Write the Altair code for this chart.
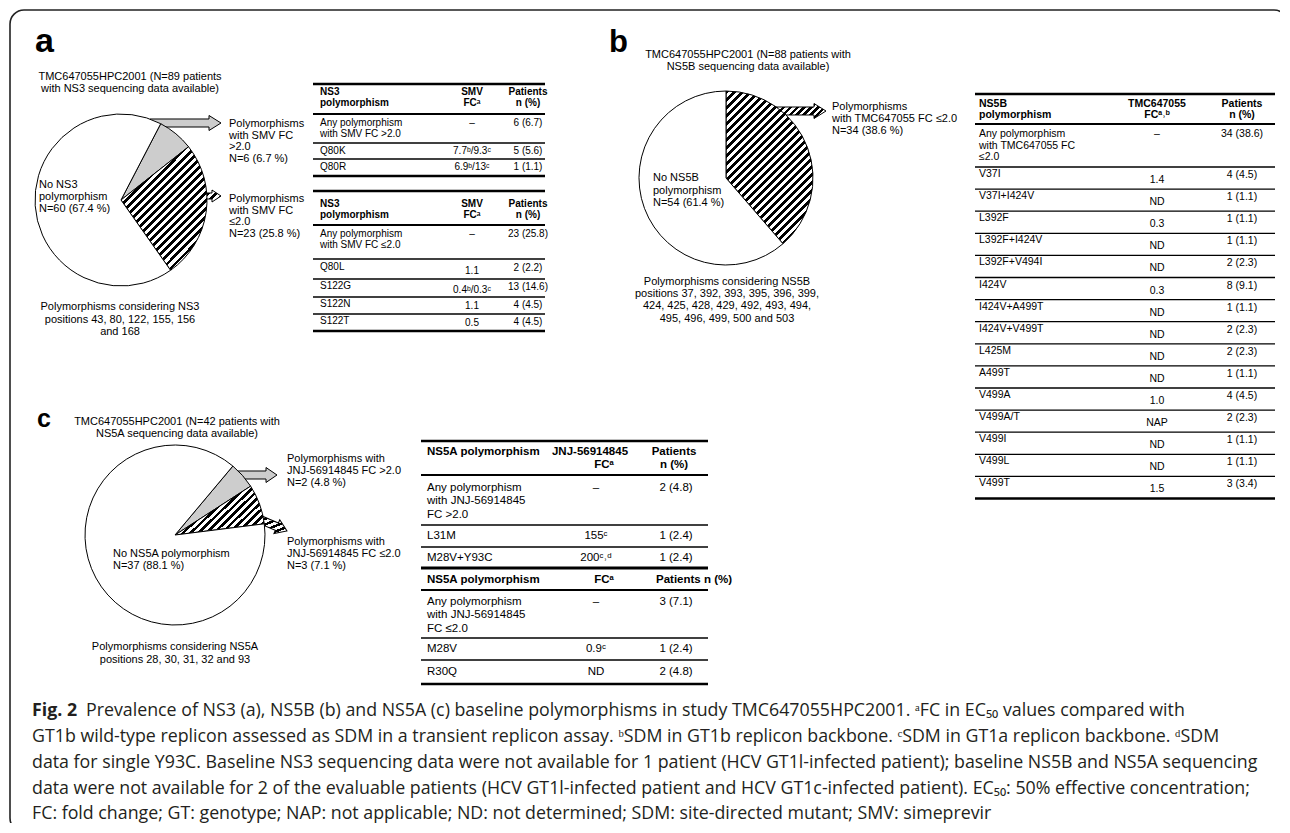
import math
import altair as alt
import pandas as pd

# ---------------- data ----------------
# panel a : NS3
A_TITLE = ["TMC647055HPC2001 (N=89 patients", "with NS3 sequencing data available)"]
A_KIND = ["dots", "hatch", "none"]
A_N = [6, 23, 60]
A_PCT = ["6.7", "25.8", "67.4"]
A_NONE_LABEL = ["No NS3", "polymorphism"]
A_HI_LABEL = ["Polymorphisms", "with SMV FC", ">2.0"]
A_LO_LABEL = ["Polymorphisms", "with SMV FC", "≤2.0"]
A_FOOT = ["Polymorphisms considering NS3", "positions 43, 80, 122, 155, 156", "and 168"]
A_HEAD = [("NS3", "SMV", "Patients"), ("polymorphism", "FCᵃ", "n (%)")]
A1_MUT = [["Any polymorphism", "with SMV FC >2.0"], ["Q80K"], ["Q80R"]]
A1_FC = ["–", "7.7ᵇ/9.3ᶜ", "6.9ᵇ/13ᶜ"]
A1_PT = ["6 (6.7)", "5 (5.6)", "1 (1.1)"]
A2_MUT = [["Any polymorphism", "with SMV FC ≤2.0"], ["Q80L"], ["S122G"], ["S122N"], ["S122T"]]
A2_FC = ["–", "1.1", "0.4ᵇ/0.3ᶜ", "1.1", "0.5"]
A2_PT = ["23 (25.8)", "2 (2.2)", "13 (14.6)", "4 (4.5)", "4 (4.5)"]

# panel b : NS5B
B_TITLE = ["TMC647055HPC2001 (N=88 patients with", "NS5B sequencing data available)"]
B_KIND = ["hatch", "none"]
B_N = [34, 54]
B_PCT = ["38.6", "61.4"]
B_NONE_LABEL = ["No NS5B", "polymorphism"]
B_LO_LABEL = ["Polymorphisms", "with TMC647055 FC ≤2.0"]
B_FOOT = ["Polymorphisms considering NS5B", "positions 37, 392, 393, 395, 396, 399,",
          "424, 425, 428, 429, 492, 493, 494,", "495, 496, 499, 500 and 503"]
B_HEAD = [("NS5B", "TMC647055", "Patients"), ("polymorphism", "FCᵃ˒ᵇ", "n (%)")]
B_MUT = [["Any polymorphism", "with TMC647055 FC", "≤2.0"], ["V37I"], ["V37I+I424V"], ["L392F"],
         ["L392F+I424V"], ["L392F+V494I"], ["I424V"], ["I424V+A499T"], ["I424V+V499T"],
         ["L425M"], ["A499T"], ["V499A"], ["V499A/T"], ["V499I"], ["V499L"], ["V499T"]]
B_FC = ["–", "1.4", "ND", "0.3", "ND", "ND", "0.3", "ND", "ND", "ND", "ND", "1.0", "NAP", "ND", "ND", "1.5"]
B_PT = ["34 (38.6)", "4 (4.5)", "1 (1.1)", "1 (1.1)", "1 (1.1)", "2 (2.3)", "8 (9.1)", "1 (1.1)",
        "2 (2.3)", "2 (2.3)", "1 (1.1)", "4 (4.5)", "2 (2.3)", "1 (1.1)", "1 (1.1)", "3 (3.4)"]

# panel c : NS5A
C_TITLE = ["TMC647055HPC2001 (N=42 patients with", "NS5A sequencing data available)"]
C_KIND = ["dots", "hatch", "none"]
C_N = [2, 3, 37]
C_PCT = ["4.8", "7.1", "88.1"]
C_NONE_LABEL = ["No NS5A polymorphism"]
C_HI_LABEL = ["Polymorphisms with", "JNJ-56914845 FC >2.0"]
C_LO_LABEL = ["Polymorphisms with", "JNJ-56914845 FC ≤2.0"]
C_FOOT = ["Polymorphisms considering NS5A", "positions 28, 30, 31, 32 and 93"]
C1_HEAD = [("NS5A polymorphism", "JNJ-56914845", "Patients"), ("", "FCᵃ", "n (%)")]
C1_MUT = [["Any polymorphism", "with JNJ-56914845", "FC >2.0"], ["L31M"], ["M28V+Y93C"]]
C1_FC = ["–", "155ᶜ", "200ᶜ˒ᵈ"]
C1_PT = ["2 (4.8)", "1 (2.4)", "1 (2.4)"]
C2_HEAD = ("NS5A polymorphism", "FCᵃ", "Patients n (%)")
C2_MUT = [["Any polymorphism", "with JNJ-56914845", "FC ≤2.0"], ["M28V"], ["R30Q"]]
C2_FC = ["–", "0.9ᶜ", "ND"]
C2_PT = ["3 (7.1)", "1 (2.4)", "2 (4.8)"]

CAPTION_BOLD = "Fig. 2"
CAPTION = [
    "Prevalence of NS3 (a), NS5B (b) and NS5A (c) baseline polymorphisms in study TMC647055HPC2001. ᵃFC in EC₅₀ values compared with",
    "GT1b wild-type replicon assessed as SDM in a transient replicon assay. ᵇSDM in GT1b replicon backbone. ᶜSDM in GT1a replicon backbone. ᵈSDM",
    "data for single Y93C. Baseline NS3 sequencing data were not available for 1 patient (HCV GT1l-infected patient); baseline NS5B and NS5A sequencing",
    "data were not available for 2 of the evaluable patients (HCV GT1l-infected patient and HCV GT1c-infected patient). EC₅₀: 50% effective concentration;",
    "FC: fold change; GT: genotype; NAP: not applicable; ND: not determined; SDM: site-directed mutant; SMV: simeprevir",
]

# ---------------- layout ----------------
OX, OY = 8, 8
W, H = 1272, 815
FONT = "Liberation Sans"
CAP_FONT = "Open Sans"
CAP_SIZE = 17.8
DOTS = "#cdcdcd"

xs = alt.Scale(domain=[OX, OX + W], nice=False, zero=False)
ys = alt.Scale(domain=[OY, OY + H], nice=False, zero=False, reverse=True)


def hatch(w, h, period=5.6, frac=0.48):
    k = (w + h) / (w * w + h * h)
    span = (w + h) / math.sqrt(2)
    n = max(2, round(span / period))
    stops = []
    for i in range(n):
        a, b, c = i / n, (i + frac) / n, (i + 1) / n
        stops += [{"offset": a, "color": "black"}, {"offset": b, "color": "black"},
                  {"offset": b, "color": "white"}, {"offset": c, "color": "white"}]
    return {"gradient": "linear", "x1": 0, "y1": 0, "x2": w * k, "y2": h * k, "stops": stops}


TXT = []


def put(x, y, t, s=11, align="left", weight="normal", font=FONT, color="black", base="middle"):
    TXT.append(dict(x=x, y=y, t=t, s=s, align=align, weight=weight, font=font, color=color, base=base))


def lines(x, y0, lh, texts, **kw):
    for i, t in enumerate(texts):
        put(x, y0 + i * lh, t, **kw)


RULES = []


def rule(x0, x1, y, w):
    RULES.append(dict(x=x0, x2=x1, y=y, w=w))


def table(x0, x1, cx, rules_y, rules_w, rows_top, mut, fc, pt, s, lh, lab_off, fc_off, pt_off):
    for y, w in zip(rules_y, rules_w):
        rule(x0, x1, y, w)
    for i, top in enumerate(rows_top):
        lines(cx[0], top + lab_off[i], lh, mut[i], s=s)
        put(cx[1], top + fc_off[i], fc[i], s=s, align="center")
        put(cx[2], top + pt_off[i], pt[i], s=s, align="center")


# panel letters
put(35, 52, "a", s=34, weight="bold", base="alphabetic")
put(609, 52, "b", s=31, weight="bold", base="alphabetic")
put(37, 427, "c", s=25, weight="bold", base="alphabetic")

# ---- panel a texts
lines(130, 77, 12, A_TITLE, align="center")
lines(39, 185, 12, A_NONE_LABEL + [f"N={A_N[2]} ({A_PCT[2]} %)"])
lines(229, 124, 11.5, A_HI_LABEL + [f"N={A_N[0]} ({A_PCT[0]} %)"])
lines(229, 199, 11.5, A_LO_LABEL + [f"N={A_N[1]} ({A_PCT[1]} %)"])
lines(120, 307, 12.5, A_FOOT, align="center")

AX = (320, 472, 528)
for top in (92, 204):
    for j, row in enumerate(A_HEAD):
        put(AX[0], top + 11 * j, row[0], s=10, weight="bold")
        put(AX[1], top + 11 * j, row[1], s=10, weight="bold", align="center")
        put(AX[2], top + 11 * j, row[2], s=10, weight="bold", align="center")
table(313, 545, AX, [84, 114, 143, 159, 176], [2.5, 2, 1.3, 1.3, 2.5], [114, 143, 159],
      A1_MUT, A1_FC, A1_PT, 10, 10.5, [9, 8, 8], [9, 8, 8], [9, 8, 8])
table(313, 545, AX, [191, 225, 259, 279, 297, 314, 331], [2.5, 2, 1.3, 1.3, 1.3, 1.3, 2.5],
      [225, 259, 279, 297, 314], A2_MUT, A2_FC, A2_PT, 10, 10.5,
      [9, 8, 7, 7, 7], [9, 12, 11, 9, 9], [9, 9, 8, 8, 8])

# ---- panel b texts
lines(748, 55, 12, B_TITLE, align="center")
lines(653, 178, 12.5, B_NONE_LABEL + [f"N={B_N[1]} ({B_PCT[1]} %)"])
lines(832, 107, 12, B_LO_LABEL + [f"N={B_N[0]} ({B_PCT[0]} %)"])
lines(727, 282, 12.2, B_FOOT, align="center")

BX = (979, 1157, 1242)
for j, row in enumerate(B_HEAD):
    put(BX[0], 104 + 11 * j, row[0], s=10.5, weight="bold")
    put(BX[1], 104 + 11 * j, row[1], s=10.5, weight="bold", align="center")
    put(BX[2], 104 + 11 * j, row[2], s=10.5, weight="bold", align="center")
B_PITCH = 22.1
b_tops = [124, 167] + [167 + B_PITCH * k for k in range(1, 15)]
b_rules = [94, 124, 167] + [167 + B_PITCH * k for k in range(1, 16)]
b_w = [2.5, 2] + [1.3] * (len(b_rules) - 3) + [2.5]
table(975, 1275, BX, b_rules, b_w, b_tops, B_MUT, B_FC, B_PT, 10.5, 11.5,
      [10] + [7] * 15, [10] + [13] * 15, [10] + [8] * 15)

# ---- panel c texts
lines(177, 422, 12, C_TITLE, align="center")
lines(113, 554, 12, C_NONE_LABEL + [f"N={C_N[2]} ({C_PCT[2]} %)"])
lines(287, 459, 12, C_HI_LABEL + [f"N={C_N[0]} ({C_PCT[0]} %)"])
lines(287, 542, 12, C_LO_LABEL + [f"N={C_N[1]} ({C_PCT[1]} %)"])
lines(175, 647, 13, C_FOOT, align="center")

CX = (427, 596, 676)
put(CX[0], 452, C1_HEAD[0][0], s=11.5, weight="bold")
put(590, 452, C1_HEAD[0][1], s=11.5, weight="bold", align="center")
put(604, 465, C1_HEAD[1][1], s=11.5, weight="bold", align="center")
put(674, 452, C1_HEAD[0][2], s=11.5, weight="bold", align="center")
put(674, 465, C1_HEAD[1][2], s=11.5, weight="bold", align="center")
put(CX[0], 580, C2_HEAD[0], s=11.5, weight="bold")
put(604, 580, C2_HEAD[1], s=11.5, weight="bold", align="center")
put(694, 580, C2_HEAD[2], s=11.5, weight="bold", align="center")
table(421, 708, CX, [441, 475, 525, 547, 568, 590, 638, 660, 684],
      [2.5, 2, 1.3, 1.3, 3, 2, 1.3, 1.3, 2.5], [475, 525, 547], C1_MUT, C1_FC, C1_PT, 11.5, 13.3,
      [13, 11, 11], [13, 11, 11], [13, 11, 11])
table(421, 708, CX, [], [], [590, 638, 660], C2_MUT, C2_FC, C2_PT, 11.5, 13.3,
      [12, 11, 12], [12, 11, 12], [12, 11, 12])

# ---- caption
CAP_Y = [711, 737, 763, 788.5, 814]
put(32, CAP_Y[0], CAPTION_BOLD, s=CAP_SIZE, weight="bold", font=CAP_FONT, color="#231f20")
put(86, CAP_Y[0], CAPTION[0], s=CAP_SIZE, font=CAP_FONT, color="#231f20")
for i in range(1, 5):
    put(32, CAP_Y[i], CAPTION[i], s=CAP_SIZE, font=CAP_FONT, color="#231f20")


# ---------------- layers ----------------
layers = []

# outer rounded frame
layers.append(alt.Chart(pd.DataFrame({"k": [0]})).mark_rect(
    fill=None, stroke="#222", strokeWidth=1.6, cornerRadius=14).encode(
    x=alt.value(10 - OX), x2=alt.value(1288 - OX), y=alt.value(10 - OY), y2=alt.value(832 - OY)))


def arrow(cx, cy, L, ang, fill, head=12, sh=4, hh=7.5):
    u = 2.0 / L
    hx = 1 - head * u
    s, h2 = sh * u, hh * u
    path = (f"M-1,{-s:.4f}L{hx:.4f},{-s:.4f}L{hx:.4f},{-h2:.4f}L1,0L{hx:.4f},{h2:.4f}"
            f"L{hx:.4f},{s:.4f}L-1,{s:.4f}Z")
    return alt.Chart(pd.DataFrame({"k": [0]})).mark_point(
        shape=path, size=L * L, angle=ang, filled=True, fill=fill, stroke="black",
        strokeWidth=1, opacity=1, fillOpacity=1, strokeOpacity=1).encode(
        x=alt.value(cx - OX), y=alt.value(cy - OY))


def arrow_hatch(L, hh):
    return hatch(L, 2 * hh, period=5.0)


layers.append(arrow(185.5, 123, 71, 0, DOTS))
layers.append(arrow(208, 196, 26, 0, arrow_hatch(26, 6), head=9, sh=3, hh=6))
layers.append(arrow(795.5, 111, 61, 0, arrow_hatch(61, 7.5)))
layers.append(arrow(249.5, 475, 55, 0, DOTS, head=11))
layers.append(arrow(263.5, 521, 51, 23, arrow_hatch(51, 7.5), head=11))


def pie(kinds, ns, cx, cy, r, start_deg, hgrad):
    df = pd.DataFrame({"i": list(range(len(ns))), "n": ns, "kind": kinds})
    s = math.radians(start_deg)
    return alt.Chart(df).mark_arc(stroke="black", strokeWidth=1).encode(
        theta=alt.Theta("n:Q", stack=True, scale=alt.Scale(range=[s, s + 2 * math.pi])),
        order=alt.Order("i:Q"),
        fill={"value": "white", "condition": [
            {"test": "datum.kind === 'hatch'", "value": hgrad},
            {"test": "datum.kind === 'dots'", "value": DOTS}]},
        x=alt.value(cx - OX), y=alt.value(cy - OY), radius=alt.value(r))


layers.append(pie(A_KIND, A_N, 121, 200, 86, 27.5, hatch(86, 123)))
layers.append(pie(B_KIND, B_N, 726, 178, 87, 0, hatch(87, 153)))
layers.append(pie(C_KIND, C_N, 175, 535, 90, 40, hatch(89, 50)))

# table rules
layers.append(alt.Chart(pd.DataFrame(RULES)).mark_rule(color="black").encode(
    x=alt.X("x:Q", scale=xs, axis=None), x2="x2:Q",
    y=alt.Y("y:Q", scale=ys, axis=None),
    size=alt.Size("w:Q", scale=None, legend=None)))

# text layers grouped by style
tdf = pd.DataFrame(TXT)
for (align, weight, font, color, base), g in tdf.groupby(["align", "weight", "font", "color", "base"]):
    layers.append(alt.Chart(g.reset_index(drop=True)).mark_text(
        align=align, baseline=base, fontWeight=weight, font=font, color=color).encode(
        x=alt.X("x:Q", scale=xs, axis=None),
        y=alt.Y("y:Q", scale=ys, axis=None),
        text="t:N",
        size=alt.Size("s:Q", scale=None, legend=None)))

chart = alt.layer(*layers).resolve_scale(theta="independent").properties(
    width=W, height=H, padding=0, autosize=alt.AutoSizeParams(type="none"),
    background="white").configure_view(strokeWidth=0)

chart.save("out.html", embed_options={"renderer": "svg", "actions": False})
